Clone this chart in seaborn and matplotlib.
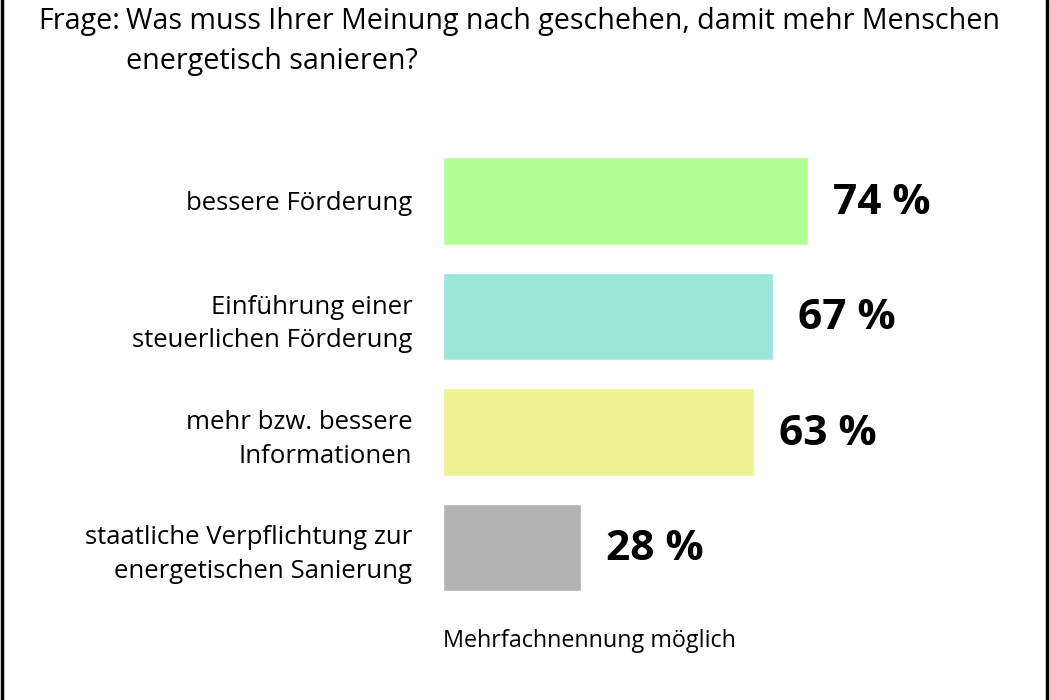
import matplotlib
matplotlib.use("Agg")
import matplotlib.pyplot as plt
import seaborn as sns
import pandas as pd
from matplotlib.lines import Line2D

# data
categories = [
    "bessere Förderung",
    "Einführung einer\nsteuerlichen Förderung",
    "mehr bzw. bessere\nInformationen",
    "staatliche Verpflichtung zur\nenergetischen Sanierung",
]
values = [74, 67, 63, 28]
bar_colors = ["#b3ff96", "#9ae6d8", "#f0f294", "#b3b3b3"]
question_prefix = "Frage:"
question_text = "Was muss Ihrer Meinung nach geschehen, damit mehr Menschen\nenergetisch sanieren?"
footnote = "Mehrfachnennung möglich"

sns.set_style("white")
plt.rcParams["font.family"] = ["Open Sans", "DejaVu Sans"]
plt.rcParams["text.color"] = "black"
plt.rcParams["ytick.color"] = "black"

df = pd.DataFrame({"Antwort": categories, "Anteil": values})

fig = plt.figure(figsize=(10.5, 7), dpi=100)
ax = fig.add_axes([443 / 1050, 1 - 605.25 / 700, 493 / 1050, 462 / 700])

sns.barplot(data=df, x="Anteil", y="Antwort", hue="Antwort",
            palette=bar_colors, width=0.76, legend=False, ax=ax,
            saturation=1)

ax.set_xlim(0, 100)
ax.set_ylim(3.5, -0.5)
ax.set_xlabel("")
ax.set_ylabel("")
ax.set_xticks([])
sns.despine(ax=ax, left=True, bottom=True)
ax.tick_params(axis="y", length=0, pad=22, labelsize=18.5, labelcolor="black")
for lbl in ax.get_yticklabels():
    lbl.set_horizontalalignment("right")
    lbl.set_multialignment("right")
    lbl.set_linespacing(1.45)

for i, v in enumerate(values):
    ax.text(v + 5.1, i + 0.02, f"{v} %", va="center", ha="left",
            fontsize=30.5, fontweight="bold", color="black")

fig.text(38 / 1050, 1 - 22 / 700, question_prefix, fontsize=20.6,
         ha="left", va="center")
fig.text(126 / 1050, 1 - 22 / 700, question_text.split("\n")[0],
         fontsize=20.6, ha="left", va="center")
fig.text(126 / 1050, 1 - 61 / 700, question_text.split("\n")[1],
         fontsize=20.6, ha="left", va="center")
fig.text(443 / 1050, 1 - 641 / 700, footnote, fontsize=16.8,
         ha="left", va="center")

# frame lines on left and right edges
fig.add_artist(Line2D([1.5 / 1050, 1.5 / 1050], [0, 1], color="black",
                      linewidth=2.5, transform=fig.transFigure))
fig.add_artist(Line2D([1046.5 / 1050, 1046.5 / 1050], [0, 1], color="black",
                      linewidth=2.5, transform=fig.transFigure))

fig.savefig("out.png", dpi=100, facecolor="white")
